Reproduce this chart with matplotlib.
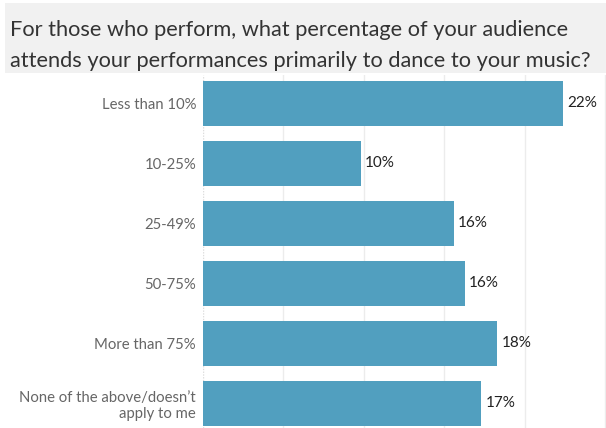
import matplotlib
matplotlib.use("Agg")
import matplotlib.pyplot as plt
from matplotlib.patches import Rectangle

# Survey responses (share of respondents, %)
categories = [
    "Less than 10%",
    "10-25%",
    "25-49%",
    "50-75%",
    "More than 75%",
    "None of the above/doesn\u2019t\napply to me",
]
shares = [22.4, 9.8, 15.6, 16.3, 18.3, 17.3]
grid_ticks = [0, 5, 10, 15, 20, 25]

title_lines = [
    "For those who perform, what percentage of your audience",
    "attends your performances primarily to dance to your music?",
]

W, H = 606, 428
plt.rcParams["font.family"] = ["Lato", "DejaVu Sans"]

fig = plt.figure(figsize=(W / 100, H / 100), dpi=100)
fig.patch.set_facecolor("white")

# Title band
fig.patches.append(Rectangle((5 / W, 1 - 73 / H), 1 - 5 / W, 70 / H,
                             transform=fig.transFigure, facecolor="#f1f1f1",
                             edgecolor="none", zorder=0))
for line, base in zip(title_lines, [36, 67]):
    fig.text(10 / W, 1 - base / H, line, fontsize=15.65, color="#333333",
             ha="left", va="baseline")

ax = fig.add_axes([203 / W, 0, (W - 203) / W, (H - 75) / H])
ypos = list(range(len(categories)))
ax.barh(ypos, shares, height=0.745, color="#519fbf", edgecolor="none", zorder=2)

ax.set_xlim(0, 25.05)
ax.set_ylim(5 + (428 - 403.4) / 60, -(103.4 - 75) / 60)

for x in grid_ticks[1:]:
    ax.axvline(x, color="#ececec", lw=1, zorder=1)
ax.axvline(0, color="#dddddd", lw=1, ls=(0, (1, 1)), zorder=1)

for y, v in zip(ypos, shares):
    ax.text(v + 0.25, y, f"{v:.0f}%", ha="left", va="center",
            fontsize=11, color="#222222", zorder=3)

ax.set_yticks(ypos)
ax.set_yticklabels(categories, fontsize=10.7, color="#666666")
ax.tick_params(axis="y", length=0, pad=5)
ax.set_xticks([])
for s in ax.spines.values():
    s.set_visible(False)
for lbl in ax.get_yticklabels():
    lbl.set_horizontalalignment("right")
    lbl.set_multialignment("right")

fig.savefig("out.png", dpi=100)
